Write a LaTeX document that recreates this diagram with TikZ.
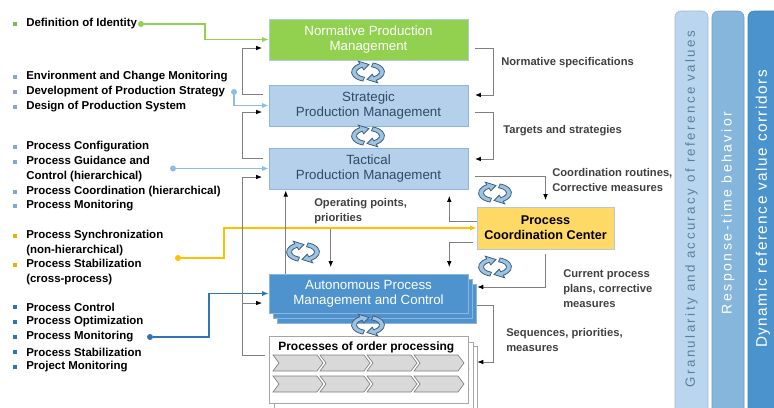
\documentclass[tikz,border=0pt]{standalone}
\usepackage{fontspec}
\setmainfont{Liberation Sans}
\newfontfamily\colfont[LetterSpace=18]{Liberation Sans}
\newfontfamily\colfontwide[LetterSpace=10]{Liberation Sans}
\usetikzlibrary{arrows.meta,calc}

\definecolor{normgreen}{HTML}{92D050}
\definecolor{mgmtblue}{HTML}{B4D0EA}
\definecolor{mgmtline}{HTML}{8DB6DD}
\definecolor{mgmttext}{HTML}{2F4B6A}
\definecolor{autoblue}{HTML}{4E93CD}
\definecolor{pccyellow}{HTML}{FFD966}
\definecolor{pccline}{HTML}{B4C7DC}
\definecolor{lnblue}{HTML}{8CBDE6}
\definecolor{dkblue}{HTML}{2E75B6}
\definecolor{lnyellow}{HTML}{FFC000}
\definecolor{bulgreen}{HTML}{7DBB4A}
\definecolor{bulblue}{HTML}{7FA8D8}
\definecolor{bulyellow}{HTML}{F0B000}
\definecolor{fbgray}{HTML}{7F7F7F}
\definecolor{lblgray}{HTML}{404040}
\definecolor{cycfill}{HTML}{9DC3E2}
\definecolor{cycline}{HTML}{3E5F80}
\definecolor{colA}{HTML}{B9D6EE}
\definecolor{colB}{HTML}{87B6DD}
\definecolor{colC}{HTML}{4B93CC}
\definecolor{colAtext}{HTML}{5D7F9E}
\definecolor{chevfill}{HTML}{D9D9D9}

\tikzset{
  cycarrow/.style = {fill=cycfill, draw=cycline, line width=0.6pt},
  chev/.style = {draw=gray, fill=chevfill, line width=0.5pt},
  % circular arrows between the levels
  cyc/.pic = {
    \foreach \a in {0,180}
      \filldraw[cycarrow, rotate=\a] (108:16.5 and 9.5)
        arc[start angle=108, end angle=240, x radius=16.5, y radius=9.5]
        -- (240:19.5 and 12.5) -- (274:14 and 7.5) -- (240:8.5 and 2.5) -- (240:11.5 and 5.5)
        arc[start angle=240, end angle=108, x radius=11.5, y radius=5.5] -- cycle;
  },
  % two rows of process chevrons
  chevrows/.pic = {
    \foreach \rw in {19,40}
      \foreach \cl in {0,...,3}
        \draw[chev] (4+47*\cl,\rw) -- ++(44,0) -- ++(6,8) -- ++(-6,8) -- ++(-44,0) -- ++(6,-8) -- cycle;
  }
}

\begin{document}
\begin{tikzpicture}[x=0.75pt, y=-0.75pt,
  item/.style = {anchor=west, inner sep=0pt, align=left, font=\bfseries\fontsize{8.6}{11.25}\selectfont},
  lbl/.style = {anchor=west, inner sep=0pt, align=left, text=lblgray, font=\bfseries\fontsize{8.4}{11}\selectfont},
  box/.style = {inner sep=0pt, minimum width=149.25pt, align=center, font=\fontsize{10}{11.5}\selectfont},
  mgmt/.style = {box, draw=mgmtline, fill=mgmtblue, text=mgmttext, minimum height=30.75pt},
  stack/.style = {draw=mgmtline, fill=autoblue},
  procbox/.style = {draw=gray!70, fill=white, line width=0.5pt},
  coltxt/.style = {rotate=90, inner sep=0pt, text=white},
  fb/.style = {draw=fbgray, line width=0.6pt, -{Latex[color=black,length=4.5pt,width=3.5pt]}, shorten >=5pt},
  feed/.style = {line width=1pt, -{Latex[length=5pt,width=4pt]}},
  dot/.style = {circle, inner sep=0pt, minimum size=4.5pt}]
\useasboundingbox (0,0) rectangle (774,407);

% right-hand columns
\draw[fill=colA, draw=colA!85!black, rounded corners=4.5pt] (675,412) -- (675,11) -- (708,11) -- (708,412);
\draw[fill=colB, draw=colB!85!black, rounded corners=4.5pt] (712,412) -- (712,11) -- (744,11) -- (744,412);
\draw[fill=colC, draw=colC!85!black, rounded corners=4.5pt] (748,412) -- (748,11) -- (785,11) -- (785,412);
\node[coltxt, text=colAtext, font=\colfont\fontsize{10}{12}\selectfont] (granul) at (691.5,209) {Granularity and accuracy of reference values};
\node[coltxt, font=\colfont\fontsize{10.5}{12}\selectfont] (resp) at (728,213) {Response-time behavior};
\node[coltxt, font=\colfontwide\fontsize{11.5}{13}\selectfont] (corr) at (763,209) {Dynamic reference value corridors};

% management levels
\node[box, fill=normgreen, draw=mgmtline!70!white, text=white, minimum height=30.75pt] (norm) at (368.5,39.5) {Normative Production\\Management};
\node[mgmt] (strat) at (368.5,105.5) {Strategic\\Production Management};
\node[mgmt] (tact) at (368.5,168.5) {Tactical\\Production Management};
\foreach \d in {8,4}
  \draw[stack] (269+\d,274+1.25*\d) rectangle ++(199,39);
\node[box, stack, text=white, minimum height=29.25pt] (auto) at (368.5,293.5) {Autonomous Process\\Management and Control};
\node[box, draw=pccline, fill=pccyellow, minimum width=102.75pt, minimum height=31.5pt,
  font=\bfseries\fontsize{9.5}{11.5}\selectfont] (pcc) at (545.5,228) {Process\\Coordination Center};

% processes of order processing
\foreach \d/\e in {9/10,5/6} {
  \draw[procbox] (269+\d,336+\e) rectangle ++(199,67);
  \pic at (269+\d,336+\e) {chevrows};
}
\node[procbox, inner sep=0pt, minimum width=149.25pt, minimum height=50.25pt] (proc) at (368.5,369.5) {};
\pic at (269,336) {chevrows};
\node[anchor=west, inner sep=0pt, font=\bfseries\fontsize{9}{10}\selectfont] (proctitle) at (278,347) {Processes of order processing};

\foreach \p in {(368,72),(368,136),(303,252),(495,193),(495,267),(368,325)}
  \pic at \p {cyc};

% task list on the left
\foreach \by/\ny/\bc/\txt [count=\i] in {
  24/24/bulgreen/{Definition of Identity},
  77/77/bulblue/{Environment and Change Monitoring},
  92/92/bulblue/{Development of Production Strategy},
  107/107/bulblue/{Design of Production System},
  147/147/bulblue/{Process Configuration},
  162/169.5/bulblue/{Process Guidance and\\Control (hierarchical)},
  192/192/bulblue/{Process Coordination (hierarchical)},
  206/206/bulblue/{Process Monitoring},
  236/243/bulyellow/{Process Synchronization\\(non-hierarchical)},
  265/272.5/bulyellow/{Process Stabilization\\(cross-process)},
  307/307/dkblue/{Process Control},
  322/322/dkblue/{Process Optimization},
  337/337/dkblue/{Process Monitoring},
  352/352/dkblue/{Process Stabilization},
  367/367/dkblue/{Project Monitoring}} {
  \fill[fill=\bc] (12.5,\by-2) rectangle ++(4,4);
  \node[item] (item\i) at (26,\ny) {\txt};
}

% assignments to the levels
\node[dot, fill=normgreen] (gdot) at (141,24) {};
\draw[feed, normgreen] (gdot) -- ++(64,0) |- (norm.west);
\node[dot, fill=lnblue] (sdot) at (234,92) {};
\draw[feed, lnblue] (sdot) |- (strat.west);
\node[dot, fill=lnblue] (tdot) at (173,168.5) {};
\draw[feed, lnblue] (tdot) -- (tact.west);
\node[dot, fill=lnyellow] (ydot) at (178,258) {};
\draw[feed, lnyellow] (ydot) -- ++(46,0) |- (pcc.west);
\node[dot, fill=dkblue] (bdot) at (150,337) {};
\draw[feed, dkblue] (bdot) -- ++(59,0) |- (auto.west);

% feedback on the left
\draw[fb] ($(strat.west)+(-6,-11.5)$) -- ++(-20,0) |- ($(norm.west)+(0,8.5)$);
\draw[fb] ($(tact.west)+(-6,-10.5)$) -- ++(-20,0) |- ($(strat.west)+(0,6.5)$);
\draw[fb] ($(proc.west)+(-4,-14.5)$) -- ++(-22,0) |- ($(tact.west)+(0,8.5)$);
\draw[fb] ($(auto.west)+(-26,9.5)$) -- ($(auto.west)+(0,9.5)$);

% inner links
\draw[fb, shorten >=1pt] ($(auto.north west)+(17,0)$) -- ($(tact.south west)+(17,0)$);
\draw[fb] ($(auto.north west)+(62,-45)$) -- ($(auto.north west)+(62,0)$);
\draw[fb] ($(pcc.west)+(0,-7)$) -| ($(tact.south east)+(-19,0)$);
\draw[fb] ($(pcc.west)+(-4,14)$) -| ($(auto.north east)+(-19,0)$);
\draw[fb] ($(tact.east)+(7,7.5)$) -| (pcc.north);

% specifications on the right
\draw[fb] ($(norm.east)+(7,8.5)$) -- ++(18,0) |- ($(strat.east)+(0,-10.5)$);
\draw[fb] ($(strat.east)+(7,6.5)$) -- ++(18,0) |- ($(tact.east)+(0,-9.5)$);
\draw[fb, shorten >=0pt] ($(pcc.south)+(0,5)$) |- ($(auto.east)+(9,-6.5)$);
\draw[fb, shorten >=0pt] ($(auto.east)+(9,11.5)$) -- ++(16,0) |- ($(proc.east)+(9,-7.5)$);

\node[lbl] (normspec) at (501,63) {Normative specifications};
\node[lbl] (targets) at (503,131) {Targets and strategies};
\node[lbl] (coordrout) at (552,180) {Coordination routines,\\Corrective measures};
\node[lbl] (operating) at (314,211) {Operating points,\\priorities};
\node[lbl] (current) at (563,288.5) {Current process\\plans, corrective\\measures};
\node[lbl] (sequences) at (506,340) {Sequences, priorities,\\measures};
\end{tikzpicture}
\end{document}
